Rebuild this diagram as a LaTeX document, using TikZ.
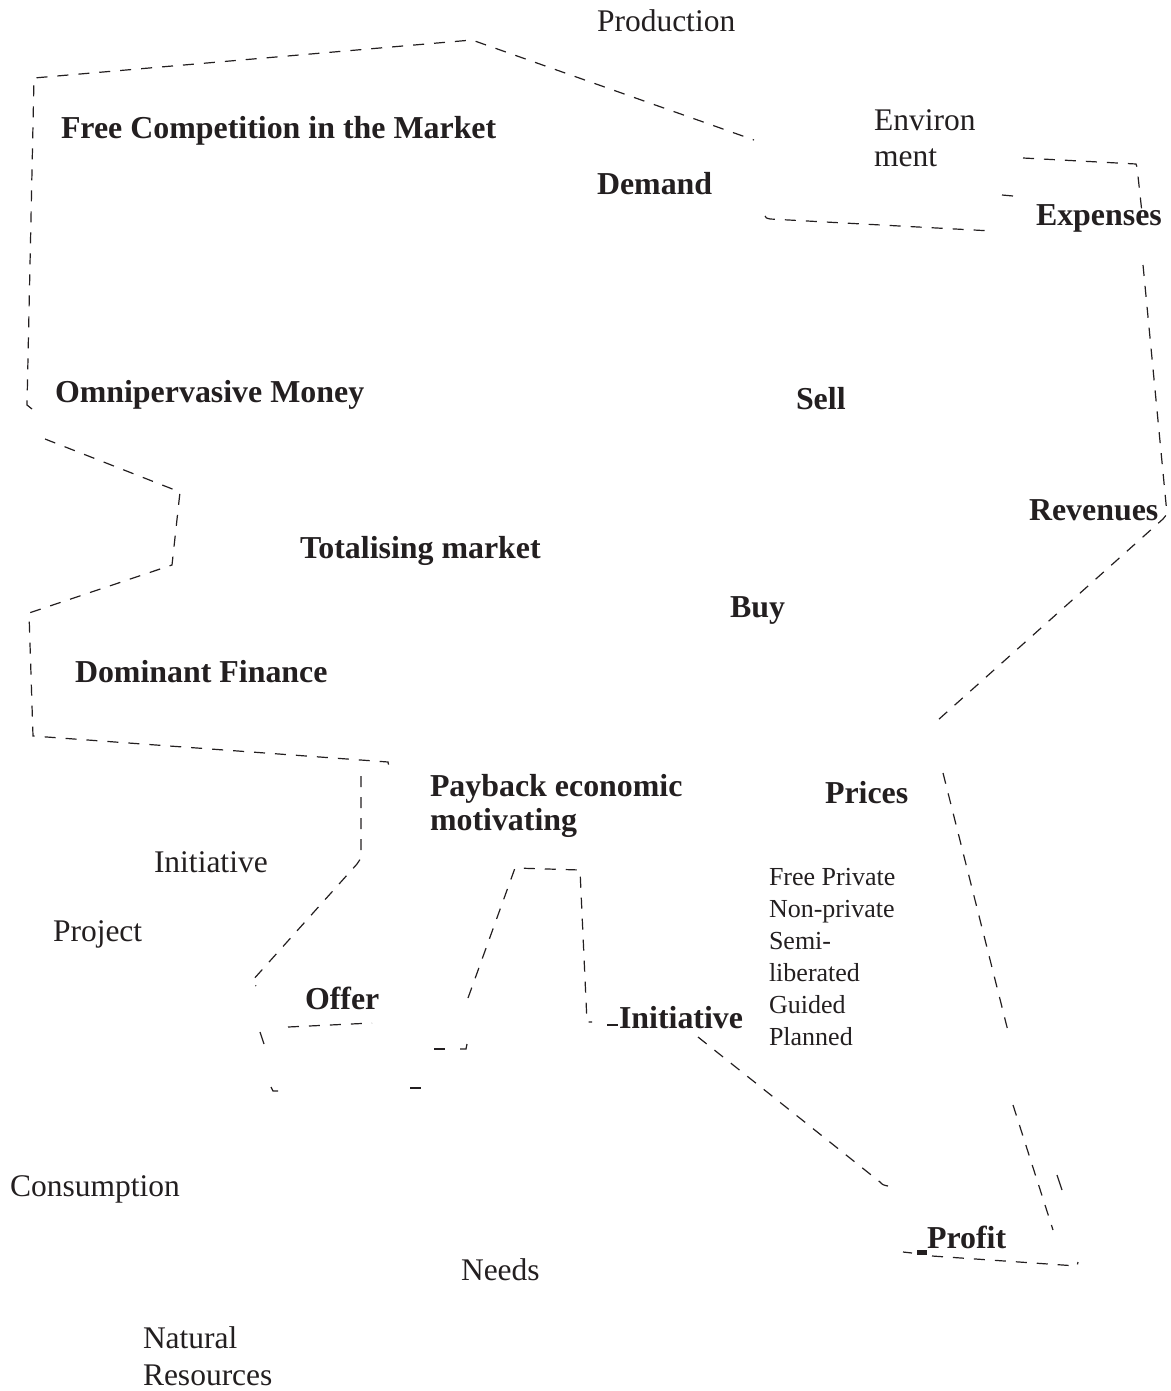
\documentclass[tikz,border=0pt]{standalone}
\usepackage{fontspec}
\setmainfont{Liberation Serif}
\definecolor{txt}{HTML}{231F20}
\begin{document}
\begin{tikzpicture}[x=1pt,y=-1pt,
  lbl/.style={anchor=base west,inner sep=0pt,outer sep=0pt,text=txt,font=\fontsize{31.5}{36}\selectfont},
  blbl/.style={lbl,font=\fontsize{31.9}{36}\selectfont\bfseries},
  slbl/.style={lbl,font=\fontsize{26}{32}\selectfont},
  dsh/.style={draw=txt,line width=1.2pt,dash pattern=on 11pt off 10pt},
  tick/.style={draw=txt,line width=1.2pt}]
\useasboundingbox (0,0) rectangle (1170,1391);
% labels
\node[lbl]  (prod) at (597,32) {Production};
\node[blbl] (free) at (61,139) {Free Competition in the Market};
\node[lbl]  (env1) at (874,131) {Environ};
\node[lbl]  (env2) at (874,167) {ment};
\node[blbl] (dem)  at (597,194) {Demand};
\node[blbl] (exp)  at (1036,225) {Expenses};
\node[blbl] (omni) at (55,402) {Omnipervasive Money};
\node[blbl] (sell) at (796,409) {Sell};
\node[blbl] (rev)  at (1029,520) {Revenues};
\node[blbl] (tot)  at (300,558) {Totalising market};
\node[blbl] (buy)  at (730,617) {Buy};
\node[blbl] (dom)  at (75,682) {Dominant Finance};
\node[blbl] (pay1) at (430,796) {Payback economic};
\node[blbl] (pay2) at (430,830) {motivating};
\node[blbl] (pri)  at (825,803) {Prices};
\node[lbl]  (ini1) at (154,872) {Initiative};
\node[slbl] (fp1)  at (769,885) {Free Private};
\node[slbl] (fp2)  at (769,917) {Non-private};
\node[slbl] (fp3)  at (769,949) {Semi-};
\node[slbl] (fp4)  at (769,981) {liberated};
\node[slbl] (fp5)  at (769,1013) {Guided};
\node[slbl] (fp6)  at (769,1045) {Planned};
\node[lbl]  (proj) at (53,941) {Project};
\node[blbl] (off)  at (305,1009) {Offer};
\node[blbl] (ini2) at (619,1028) {Initiative};
\node[lbl]  (cons) at (10,1196) {Consumption};
\node[blbl] (prof) at (927,1248) {Profit};
\node[lbl]  (need) at (461,1280) {Needs};
\node[lbl]  (nat1) at (143,1348) {Natural};
\node[lbl]  (nat2) at (143,1385) {Resources};
% dashed outlines
\draw[dsh] (32,409) -- (27,405) -- (34,78) -- (472,40) -- (754,140);
\draw[dsh] (45,439) -- (180,492) -- (172,565) -- (29,613) -- (33,736) -- (388,762) -- (389,767);
\draw[dsh] (361,776) -- (361,858) -- (357,864) -- (252,981) -- (256,986);
\draw[dsh] (288,1027) -- (372,1023);
\draw[tick] (260,1032) -- (264,1044);
\draw[tick] (271,1087) -- (273,1091) -- (278,1091);
\draw[tick] (410,1088) -- (421,1088);
\draw[tick] (434,1049) -- (445,1049);
\draw[tick] (460,1049) -- (466,1049) -- (467,1044);
\draw[dsh] (468,998) -- (515,868) -- (580,870) -- (587,1022) -- (592,1022);
\draw[tick] (607,1025) -- (618,1025);
\draw[dsh] (698,1037) -- (880,1182) .. controls (883,1185) .. (888,1186);
\draw[dsh] (765,216) .. controls (766,218) .. (770,219) -- (992,231);
\draw[tick] (1002,195) -- (1013,196);
\draw[dsh] (1023,158) -- (1136,164) -- (1137,167) -- (1142,213);
\draw[dsh] (1143,265) -- (1167,514) -- (1163,519) -- (938,720) -- (940,727);
\draw[dsh] (943,773) -- (1009,1035);
\draw[dsh] (1013,1105) -- (1053,1230);
\draw[tick] (1057,1175) -- (1062,1190);
\draw[tick] (903,1252) -- (912,1253);
\fill[txt] (917,1250) rectangle (927,1255);
\draw[dsh] (932,1256) -- (1077,1266) -- (1078,1262);
\end{tikzpicture}
\end{document}
